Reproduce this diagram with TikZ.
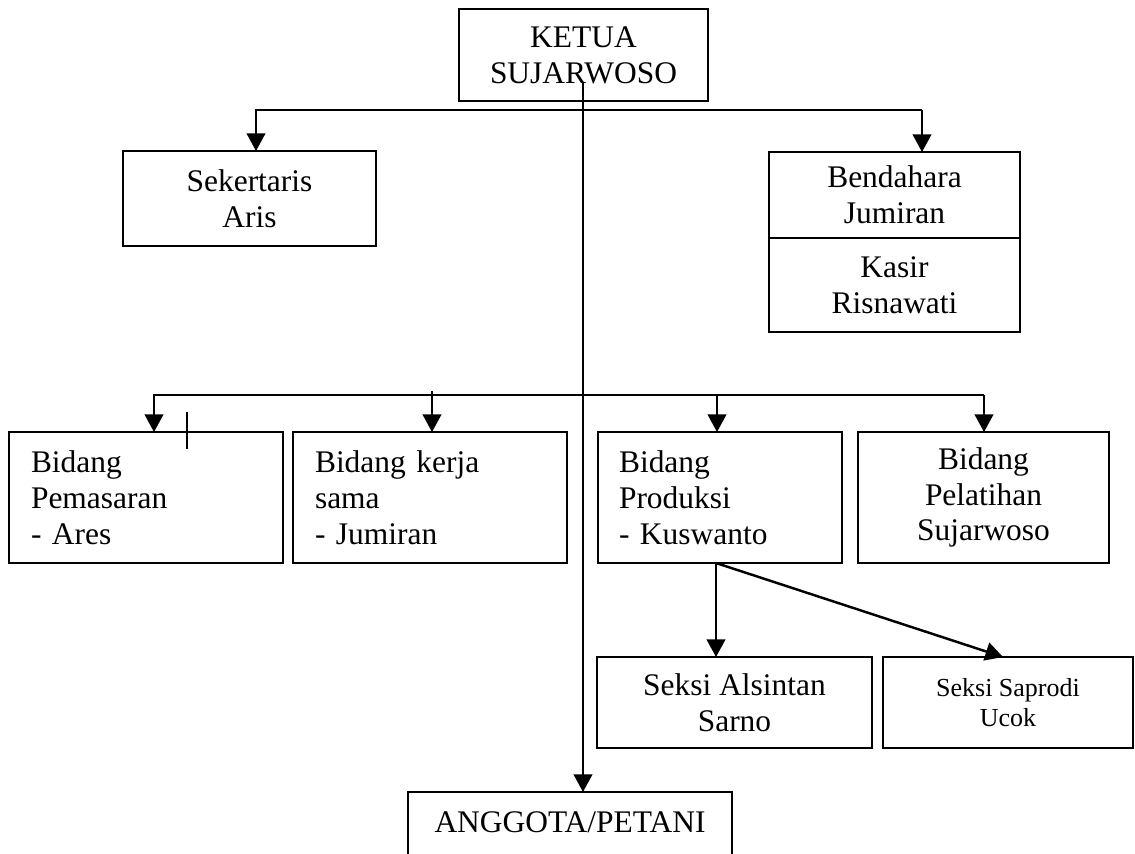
\documentclass[tikz,border=0pt]{standalone}
\usepackage{fontspec}
\setmainfont{Liberation Serif}
\usetikzlibrary{arrows.meta}
\begin{document}
\begin{tikzpicture}[x=0.02cm,y=-0.02cm,
  box/.style={draw, line width=1.3pt, inner sep=0pt, outer sep=0pt, align=center,
    font=\fontsize{17.9}{20.4}\selectfont},
  lbox/.style={box, align=left, text width=#1},
  sbox/.style={box, font=\fontsize{14.8}{17}\selectfont},
  conn/.style={line width=1.4pt},
  arr/.style={conn, -{Triangle[length=10pt,width=10.5pt]}},
]
\useasboundingbox (0,0) rectangle (1135,854);
\fill[white] (0,0) rectangle (1135,854);
\clip (0,0) rectangle (1135,854);

\node[box, minimum width=4.98cm, minimum height=1.84cm] (ketua) at (583.5,55) {KETUA\\SUJARWOSO};
\node[box, minimum width=5.06cm, minimum height=1.90cm] (sek) at (249.5,198.5) {Sekertaris\\Aris};
\node[box, minimum width=5.02cm, minimum height=1.72cm] (bend) at (894.5,195) {Bendahara\\Jumiran};
\node[box, minimum width=5.02cm, minimum height=1.88cm] (kasir) at (894.5,285) {Kasir\\Risnawati};

\node[lbox=4.6cm, minimum width=5.48cm, minimum height=2.62cm] (pem) at (146,497.5) {Bidang\\Pemasaran\\- Ares};
\node[lbox=4.6cm, minimum width=5.48cm, minimum height=2.62cm] (kerja) at (430,497.5) {Bidang kerja\\sama\\- Jumiran};
\node[lbox=4.04cm, minimum width=4.88cm, minimum height=2.62cm] (prod) at (720,497.5) {Bidang\\Produksi\\- Kuswanto};
\node[box, minimum width=5.02cm, minimum height=2.62cm] (pel) at (983.5,497.5) {Bidang\\Pelatihan\\Sujarwoso};

\node[box, minimum width=5.5cm, minimum height=1.82cm] (als) at (734.5,702.5) {Seksi Alsintan\\Sarno};
\node[sbox, minimum width=5.0cm, minimum height=1.82cm] (sap) at (1008,702.5) {Seksi Saprodi\\Ucok};

\node[box, anchor=north, minimum width=6.48cm, inner ysep=11.3pt, text height=11.7pt, text depth=40pt] (ang) at (570,792) {ANGGOTA/PETANI};

% main vertical
\coordinate (vs) at (583,83);
\draw[arr] (vs) -- (vs |- ang.north);

% top bus
\coordinate (tl) at (256,110);
\coordinate (tr) at (922,110);
\draw[arr] (tr) -- (tl) -- (tl |- sek.north);
\draw[arr] (tr) -- (tr |- bend.north);

% middle bus
\coordinate (ml) at (154,395);
\coordinate (mr) at (984,395);
\draw[arr] (mr) -- (ml) -- (ml |- pem.north);
\draw[arr] (mr) -- (mr |- pel.north);
\coordinate (mk) at (432,391);
\draw[arr] (mk) -- (mk |- kerja.north);
\coordinate (mp) at (717,395);
\draw[arr] (mp) -- (mp |- prod.north);

% stray tick
\coordinate (t1) at (187,412);
\coordinate (t2) at (187,449);
\draw[conn] (t1) -- (t2);

% produksi to seksi
\coordinate (ps) at (716,563);
\coordinate (sapin) at (1003,657);
\draw[arr] (ps) -- (ps |- als.north);
\draw[arr] (ps) -- (sapin |- sap.north);
\end{tikzpicture}
\end{document}
